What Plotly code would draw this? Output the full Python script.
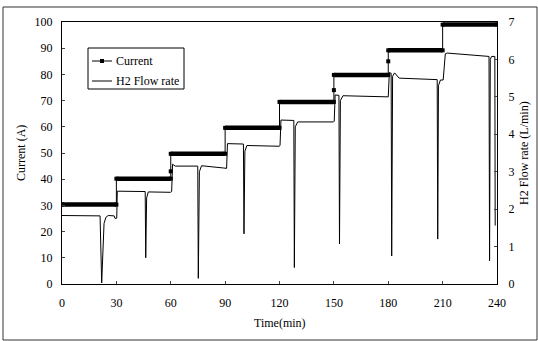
import plotly.graph_objects as go

# ---- data ----
step_start = [0, 30, 60, 90, 120, 150, 180, 210]
step_end = [30, 60, 90, 120, 150, 180, 210, 240]
current_levels = [30.3, 40.2, 49.7, 59.6, 69.5, 79.8, 89.2, 99.0]
trans_time = [60, 150, 180]
trans_current = [43, 74, 85]

flow_time = [0, 21.0, 21.9, 23.2, 24.2, 25.5, 28.8, 29.3, 30.2, 30.5,
             45.9, 46.2, 46.7, 47.6, 59.8, 60.5, 61.0, 62.5,
             74.9, 75.2, 75.8, 77.0, 89.0, 90.8, 91.3,
             100.1, 100.4, 100.9, 102.0, 119.8, 120.3, 120.8,
             127.9, 128.2, 128.7, 130.0, 149.8, 150.2, 150.7,
             152.8, 153.1, 153.6, 155.0, 180.0, 180.6, 181.6, 181.9, 182.4, 183.5, 186.0,
             207.0, 207.3, 207.7, 208.8, 210.3, 211.5, 212.5,
             235.6, 235.9, 236.3, 237.0, 238.8, 239.0]
flow_rate = [1.83, 1.82, 0.03, 1.62, 1.78, 1.83, 1.82, 1.75, 1.76, 2.48,
             2.47, 0.70, 2.30, 2.46, 2.45, 2.47, 3.20, 3.15,
             3.15, 0.15, 3.00, 3.16, 3.10, 3.09, 3.75,
             3.74, 1.34, 3.55, 3.70, 3.68, 3.70, 4.38,
             4.37, 0.44, 4.20, 4.33, 4.33, 4.35, 5.05,
             5.04, 1.07, 4.90, 5.03, 5.00, 5.65, 5.63, 0.75, 5.55, 5.64, 5.50,
             5.46, 1.20, 5.30, 5.45, 5.45, 6.15, 6.17,
             6.08, 0.62, 6.00, 6.08, 6.08, 1.56]

x_ticks = [0, 30, 60, 90, 120, 150, 180, 210, 240]
legend_names = ["Current", "H2 Flow rate"]

# ---- build current step path from the arrays ----
cur_x, cur_y = [], []
thick_x, thick_y = [], []
for s, e, v in zip(step_start, step_end, current_levels):
    if s in trans_time:
        j = trans_time.index(s)
        cur_x.append(trans_time[j]); cur_y.append(trans_current[j])
    cur_x += [s, e]; cur_y += [v, v]
    thick_x += [s, e, None]; thick_y += [v, v, None]

FONT = "Liberation Serif"
L, R, T, B, W, H = 62, 41, 22, 57, 538, 341
PW, PH = W - L - R, H - T - B


def px(x):
    return (x - L) / PW


def py(y):
    return (H - B - y) / PH


fig = go.Figure()
fig.add_trace(go.Scatter(x=thick_x, y=thick_y, mode="lines",
                         line=dict(color="black", width=4.5), showlegend=False,
                         hoverinfo="skip"))
fig.add_trace(go.Scatter(x=cur_x, y=cur_y, mode="lines+markers", name=legend_names[0],
                         line=dict(color="black", width=1), showlegend=False,
                         marker=dict(symbol="square", size=4, color="black")))
fig.add_trace(go.Scatter(x=flow_time, y=flow_rate, mode="lines", name=legend_names[1],
                         line=dict(color="black", width=1), yaxis="y2", showlegend=False))

fig.update_layout(
    width=W, height=H,
    margin=dict(l=L, r=R, t=T, b=B),
    paper_bgcolor="white", plot_bgcolor="white",
    font=dict(family=FONT, size=12, color="black"),
    xaxis=dict(range=[0, 240], tickvals=x_ticks, ticks="inside", ticklen=3,
               showline=True, linecolor="black", linewidth=1, mirror=True,
               showgrid=False, zeroline=False, ticklabelstandoff=8),
    yaxis=dict(range=[0, 100], dtick=10, ticks="inside", ticklen=3,
               showline=True, linecolor="black", linewidth=1,
               showgrid=False, zeroline=False, ticklabelstandoff=6),
    yaxis2=dict(range=[0, 7], dtick=1, ticks="inside", ticklen=3, overlaying="y",
                side="right", showline=True, linecolor="black", linewidth=1,
                showgrid=False, zeroline=False, ticklabelstandoff=8),
    showlegend=False,
)

# axis titles
fig.add_annotation(text="Current (A)", x=px(21), y=0.5, xref="paper", yref="paper",
                   xanchor="center", yanchor="middle",
                   textangle=-90, showarrow=False, font=dict(size=12))
fig.add_annotation(text="H2 Flow rate (L/min)", x=px(524), y=0.5, xref="paper", yref="paper",
                   xanchor="center", yanchor="middle",
                   textangle=-90, showarrow=False, font=dict(size=12))
fig.add_annotation(text="Time(min)", x=0.5, y=py(323), xref="paper", yref="paper",
                   xanchor="center", yanchor="middle",
                   showarrow=False, font=dict(size=12))

# legend box (drawn)
fig.add_shape(type="rect", xref="paper", yref="paper",
              x0=px(88), x1=px(184), y0=py(89), y1=py(48),
              line=dict(color="black", width=1), fillcolor="white", layer="above")
for name, yy in zip(legend_names, [61, 81]):
    fig.add_shape(type="line", xref="paper", yref="paper",
                  x0=px(92), x1=px(112), y0=py(yy), y1=py(yy),
                  line=dict(color="black", width=1), layer="above")
    fig.add_annotation(text=name, x=px(114), y=py(yy), xref="paper", yref="paper",
                       xanchor="left", yanchor="middle", showarrow=False,
                       font=dict(size=12))
fig.add_shape(type="rect", xref="paper", yref="paper",
              x0=px(100), x1=px(104), y0=py(63), y1=py(59),
              line=dict(color="black", width=0), fillcolor="black", layer="above")

# outer frame
fig.add_shape(type="rect", xref="paper", yref="paper",
              x0=px(3), x1=px(537), y0=py(340), y1=py(7),
              line=dict(color="#333333", width=1))

fig.write_html("out.html", config={"displayModeBar": False},
               post_script="document.body.style.margin='0px';")
